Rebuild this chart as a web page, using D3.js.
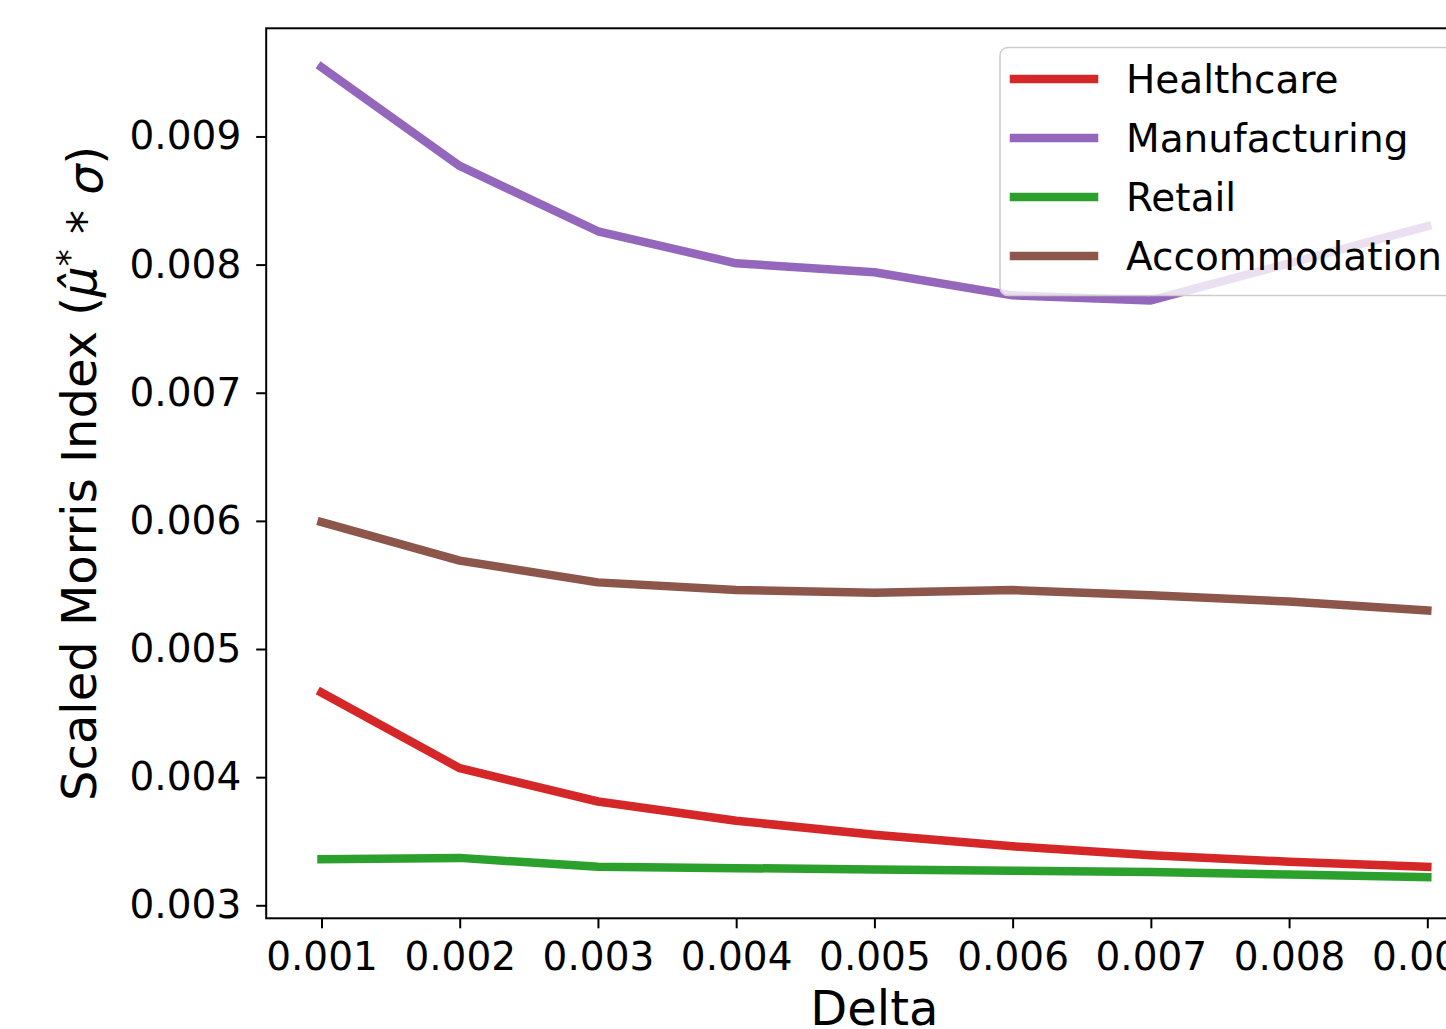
<!DOCTYPE html>
<html>
<head>
<meta charset="utf-8">
<script src="https://cdn.jsdelivr.net/npm/d3@7"></script>
<style>
  html, body { margin: 0; padding: 0; background: #ffffff; }
  svg { display: block; font-family: "DejaVu Sans", sans-serif; }
</style>
</head>
<body>
<svg id="chart" width="1446" height="1029"></svg>
<script>
// ---- data ----
const deltas = [0.001, 0.002, 0.003, 0.004, 0.005, 0.006, 0.007, 0.008, 0.009];
const seriesNames = ["Healthcare", "Manufacturing", "Retail", "Accommodation"];
const healthcare    = [0.00466, 0.00407, 0.00381, 0.00366, 0.00355, 0.00346, 0.00339, 0.00334, 0.00330];
const manufacturing = [0.00954, 0.00877, 0.00826, 0.00801, 0.00794, 0.00776, 0.00772, 0.00801, 0.00830];
const retail        = [0.00336, 0.00337, 0.00330, 0.00329, 0.00328, 0.00327, 0.00326, 0.00324, 0.00322];
const accommodation = [0.00599, 0.00569, 0.00552, 0.00546, 0.00544, 0.00546, 0.00542, 0.00537, 0.00530];
const xTicks = [0.001, 0.002, 0.003, 0.004, 0.005, 0.006, 0.007, 0.008, 0.009];
const yTicks = [0.003, 0.004, 0.005, 0.006, 0.007, 0.008, 0.009];
const xLimits = [0.0006, 0.0094];
const yLimits = [0.0028985, 0.009844];
const xLabel = "Delta";

// ---- setup ----
const colors = ["#d62728", "#9467bd", "#2ca02c", "#8c564b"];
const values = [healthcare, manufacturing, retail, accommodation];
const series = seriesNames.map((name, i) => ({
  name, color: colors[i],
  points: deltas.map((d, j) => ({ x: d, y: values[i][j] }))
}));

const svg = d3.select("#chart");
const plot = { left: 266.2, right: 1482.6, top: 28.3, bottom: 918.3 };

const x = d3.scaleLinear().domain(xLimits).range([plot.left, plot.right]);
const y = d3.scaleLinear().domain(yLimits).range([plot.bottom, plot.top]);

svg.append("rect").attr("width", 1446).attr("height", 1029).attr("fill", "#ffffff");

// lines
const line = d3.line().x(d => x(d.x)).y(d => y(d.y));
svg.append("g").selectAll("path").data(series).join("path")
  .attr("d", d => line(d.points))
  .attr("fill", "none")
  .attr("stroke", d => d.color)
  .attr("stroke-width", 8.5)
  .attr("stroke-linecap", "square")
  .attr("stroke-linejoin", "round");

// axes
const fmt = d3.format(".3f");
const xAxis = svg.append("g")
  .attr("transform", `translate(0,${plot.bottom})`)
  .call(d3.axisBottom(x).tickValues(xTicks).tickFormat(fmt).tickSize(10).tickPadding(12));
const yAxis = svg.append("g")
  .attr("transform", `translate(${plot.left},0)`)
  .call(d3.axisLeft(y).tickValues(yTicks).tickFormat(fmt).tickSize(10).tickPadding(15));
[xAxis, yAxis].forEach(g => {
  g.select(".domain").remove();
  g.selectAll(".tick line").attr("stroke", "#000").attr("stroke-width", 2);
  g.selectAll(".tick text").attr("fill", "#000").style("font-size", "39px")
    .style("font-family", "'DejaVu Sans', sans-serif");
});
xAxis.selectAll(".tick text").attr("dy", "0").attr("y", 51.5);

// spines
svg.append("rect")
  .attr("x", plot.left).attr("y", plot.top)
  .attr("width", plot.right - plot.left).attr("height", plot.bottom - plot.top)
  .attr("fill", "none").attr("stroke", "#000").attr("stroke-width", 2);

// axis labels
svg.append("text")
  .attr("x", (plot.left + plot.right) / 2).attr("y", 1025)
  .attr("text-anchor", "middle")
  .style("font-size", "48px").attr("fill", "#000")
  .text(xLabel);

const yl = svg.append("text")
  .attr("transform", `translate(96,${(plot.top + plot.bottom) / 2}) rotate(-90)`)
  .attr("text-anchor", "middle")
  .style("font-size", "48px").attr("fill", "#000");
yl.append("tspan").text("Scaled Morris Index (");
yl.append("tspan").style("font-style", "italic").text("\u03BC\u0302");
yl.append("tspan").attr("dy", "-0.45em").style("font-size", "34px").text("*");
yl.append("tspan").attr("dy", "0.45em").text(" * ");
yl.append("tspan").style("font-style", "italic").text("\u03C3");
yl.append("tspan").text(")");

// legend
const lg = svg.append("g");
lg.append("rect")
  .attr("x", 1000).attr("y", 47.5).attr("width", 463).attr("height", 248)
  .attr("rx", 8).attr("ry", 8)
  .attr("fill", "#ffffff").attr("fill-opacity", 0.8)
  .attr("stroke", "#cccccc").attr("stroke-width", 1.5);
const rowY = i => 79 + i * 59;
lg.selectAll("line.h").data(series).join("line")
  .attr("x1", 1014).attr("x2", 1094)
  .attr("y1", (d, i) => rowY(i)).attr("y2", (d, i) => rowY(i))
  .attr("stroke", d => d.color).attr("stroke-width", 8.5).attr("stroke-linecap", "square");
lg.selectAll("text").data(series).join("text")
  .attr("x", 1126).attr("y", (d, i) => rowY(i) + 13.5)
  .style("font-size", "39px").attr("fill", "#000")
  .text(d => d.name);
</script>
</body>
</html>
